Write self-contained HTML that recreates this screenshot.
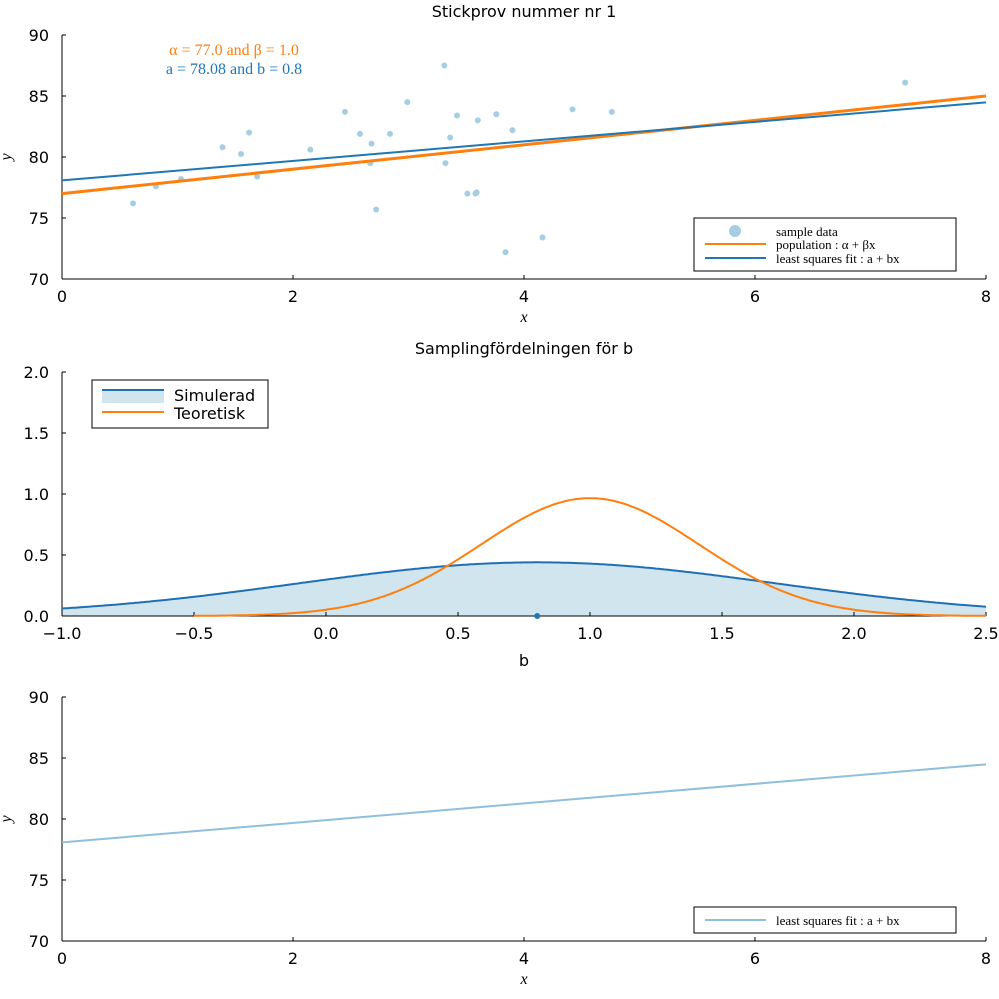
<!DOCTYPE html>
<html><head><meta charset="utf-8"><style>
body{margin:0;background:#fff}
svg{display:block}
.t{font-family:"DejaVu Sans","Liberation Sans",sans-serif;font-size:16px;fill:#000}
.s{font-family:"Liberation Serif",serif}
</style></head><body>
<svg id="c" width="999" height="999" xmlns="http://www.w3.org/2000/svg"></svg>
<script>
const sampleX=[0.615,0.814,1.03,1.39,1.55,1.62,1.69,2.15,2.45,2.58,2.68,2.67,2.72,2.84,2.99,3.32,3.31,3.36,3.42,3.51,3.58,3.60,3.76,3.84,3.90,4.16,4.42,4.76,7.30,3.59];
const sampleY=[76.2,77.6,78.2,80.8,80.25,82.0,78.4,80.6,83.7,81.9,81.1,79.5,75.7,81.9,84.5,79.5,87.5,81.6,83.4,77.0,77.0,83.0,83.5,72.2,82.2,73.4,83.9,83.7,86.1,77.1];
const popParams=[77.0,1.0];
const fitParams=[78.08,0.8];
const simParams=[0.8,0.907];
const theoParams=[1.0,0.413];
const xTicks1=[0,2,4,6,8];
const yTicks1=[70,75,80,85,90];
const xTicks2=[-1.0,-0.5,0.0,0.5,1.0,1.5,2.0,2.5];
const yTicks2=[0.0,0.5,1.0,1.5,2.0];

const svg=document.getElementById('c');
const NS='http://www.w3.org/2000/svg';
function el(tag,attrs,parent){const e=document.createElementNS(NS,tag);for(const k in attrs)e.setAttribute(k,attrs[k]);(parent||svg).appendChild(e);return e;}
function txt(s,attrs,parent){const e=el('text',attrs,parent);e.textContent=s;return e;}

function axes(g,x0,x1,y0,y1,sx,sy,xt,yt,xfmt,yfmt){
  el('line',{x1:x0,y1:y1,x2:x0,y2:y0,stroke:'#000','stroke-width':1},g);
  el('line',{x1:x0,y1:y1,x2:x1,y2:y1,stroke:'#000','stroke-width':1},g);
  xt.forEach(v=>{const x=sx(v);el('line',{x1:x,y1:y1,x2:x,y2:y1-4,stroke:'#000'},g);
    const t=txt(xfmt(v),{x:x,y:y1+23,'text-anchor':'middle',class:'t'},g);
    });
  yt.forEach(v=>{const y=sy(v);el('line',{x1:x0,y1:y,x2:x0+4,y2:y,stroke:'#000'},g);
    const t=txt(yfmt(v),{x:x0-13,y:y+6,'text-anchor':'end',class:'t'},g);
    });
}

// Panel 1
(function(){
  const g=el('g',{});
  const sx=v=>62+(v-0)/8*924, sy=v=>279-(v-70)/20*244;
  axes(g,62,986,35,279,sx,sy,xTicks1,yTicks1,v=>String(v),v=>String(v));
  const tt=txt('Stickprov nummer nr 1',{x:524,y:17,'text-anchor':'middle',class:'t'},g);
  const xl=txt('x',{x:524,y:322,'text-anchor':'middle',class:'s','font-style':'italic','font-size':16},g);
  const yl=txt('y',{x:0,y:0,transform:'translate(11,157) rotate(-90)','text-anchor':'middle',class:'s','font-style':'italic','font-size':16},g);
  sampleX.forEach((x,i)=>{const c=el('circle',{cx:sx(x),cy:sy(sampleY[i]),r:3,fill:'#a6cee3'},g);
    });
  const pl=el('line',{x1:sx(0),y1:sy(popParams[0]),x2:sx(8),y2:sy(popParams[0]+popParams[1]*8),stroke:'#ff7f0e','stroke-width':3},g);
  
  const fl=el('line',{x1:sx(0),y1:sy(fitParams[0]),x2:sx(8),y2:sy(fitParams[0]+fitParams[1]*8),stroke:'#1f77b4','stroke-width':2},g);
  
  const a1=txt('α = 77.0 and β = 1.0',{x:234,y:55,'text-anchor':'middle',class:'s','font-size':16,style:'fill:#ff7f0e'},g);
  const a2=txt('a = 78.08 and b = 0.8',{x:234,y:74,'text-anchor':'middle',class:'s','font-size':16,style:'fill:#1f77b4'},g);
  const lg=el('g',{},g);
  el('rect',{x:694,y:218,width:262,height:53,fill:'#fff',stroke:'#000'},lg);
  el('circle',{cx:735,cy:231,r:6,fill:'#a6cee3'},lg);
  el('line',{x1:705,y1:244,x2:766,y2:244,stroke:'#ff7f0e','stroke-width':2},lg);
  el('line',{x1:705,y1:258,x2:766,y2:258,stroke:'#1f77b4','stroke-width':2},lg);
  txt('sample data',{x:776,y:236,class:'s','font-size':13},lg);
  txt('population :  α + βx',{x:776,y:249,class:'s','font-size':13},lg);
  txt('least squares fit :  a + bx',{x:776,y:263,class:'s','font-size':13},lg);
})();

// Panel 2
(function(){
  const g=el('g',{});
  const sx=v=>62+(v+1)/3.5*924, sy=v=>616-v/2*244;
  const pdf=(x,m,s)=>Math.exp(-0.5*((x-m)/s)**2)/(s*Math.sqrt(2*Math.PI));
  let dS='',dT='',area='M'+sx(-1)+','+sy(0);
  for(let i=0;i<=350;i++){const x=-1+i*0.01;const ys=pdf(x,simParams[0],simParams[1]);
    dS+=(i?'L':'M')+sx(x).toFixed(1)+','+sy(ys).toFixed(1);area+='L'+sx(x).toFixed(1)+','+sy(ys).toFixed(1);}
  area+='L'+sx(2.5)+','+sy(0)+'Z';
  for(let i=0;i<=300;i++){const x=-0.5+i*0.01;const yt=pdf(x,theoParams[0],theoParams[1]);
    dT+=(i?'L':'M')+sx(x).toFixed(1)+','+sy(yt).toFixed(1);}
  const ar=el('path',{d:area,fill:'#d1e5ef'},g);
  axes(g,62,986,372,616,sx,sy,xTicks2,yTicks2,v=>v.toFixed(1).replace('-','−'),v=>v.toFixed(1));
  const ps=el('path',{d:dS,fill:'none',stroke:'#1f6fb4','stroke-width':2},g);
  const pt=el('path',{d:dT,fill:'none',stroke:'#ff7f0e','stroke-width':2},g);
  const dot=el('circle',{cx:sx(fitParams[1]),cy:sy(0),r:3,fill:'#1f77b4'},g);
  const tt=txt('Samplingfördelningen för b',{x:524,y:354,'text-anchor':'middle',class:'t'},g);
  const xl=txt('b',{x:524,y:666,'text-anchor':'middle',class:'t'},g);
  const lg=el('g',{},g);
  el('rect',{x:92,y:380,width:176,height:48,fill:'#fff',stroke:'#000'},lg);
  el('rect',{x:102,y:390,width:62,height:13,fill:'#d1e5ef'},lg);
  el('line',{x1:102,y1:390,x2:164,y2:390,stroke:'#1f6fb4','stroke-width':2},lg);
  el('line',{x1:102,y1:412,x2:164,y2:412,stroke:'#ff7f0e','stroke-width':2},lg);
  txt('Simulerad',{x:174,y:401,class:'t','font-size':14},lg);
  txt('Teoretisk',{x:174,y:419,class:'t','font-size':14},lg);
})();

// Panel 3
(function(){
  const g=el('g',{});
  const sx=v=>62+v/8*924, sy=v=>941-(v-70)/20*244;
  axes(g,62,986,697,941,sx,sy,xTicks1,yTicks1,v=>String(v),v=>String(v));
  const fl=el('line',{x1:sx(0),y1:sy(fitParams[0]),x2:sx(8),y2:sy(fitParams[0]+fitParams[1]*8),stroke:'#8fbfdc','stroke-width':2},g);
  
  const xl=txt('x',{x:524,y:984,'text-anchor':'middle',class:'s','font-style':'italic','font-size':16},g);
  const yl=txt('y',{x:0,y:0,transform:'translate(11,819) rotate(-90)','text-anchor':'middle',class:'s','font-style':'italic','font-size':16},g);
  const lg=el('g',{},g);
  el('rect',{x:694,y:907,width:262,height:26,fill:'#fff',stroke:'#000'},lg);
  el('line',{x1:705,y1:920,x2:766,y2:920,stroke:'#8fbfdc','stroke-width':2},lg);
  txt('least squares fit :  a + bx',{x:776,y:925,class:'s','font-size':13},lg);
})();
</script>
</body></html>
